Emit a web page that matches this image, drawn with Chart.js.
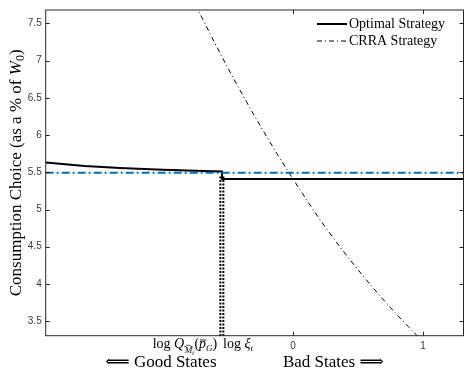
<!DOCTYPE html>
<html>
<head>
<meta charset="utf-8">
<script src="https://cdn.jsdelivr.net/npm/chart.js@4.4.0/dist/chart.umd.min.js"></script>
<style>
  html, body { margin: 0; padding: 0; background: #fff; }
  #wrap { width: 465px; height: 377px; }
</style>
</head>
<body>
<div id="wrap"><canvas id="chart" width="465" height="377"></canvas></div>
<script>
// values
const optX = [-1.9, -1.6, -1.33, -1.0, -0.75, -0.545, -0.545, 1.31];
const optY = [5.63, 5.585, 5.557, 5.535, 5.52, 5.51, 5.41, 5.41];

const crraX = [-0.75, -0.5, -0.25, 0, 0.25, 0.5, 0.75, 1.0];
const crraY = [7.75, 6.90, 6.12, 5.41, 4.76, 4.19, 3.68, 3.22];

const blueX = [-1.9, 1.31];
const blueY = [5.493, 5.493];

// double dotted marker below the switch point
const dotX1 = [-0.558, -0.558];
const dotX2 = [-0.535, -0.535];
const dotY = [3.3, 5.46];

const xTicks = [0, 1];
const yTicks = [3.5, 4, 4.5, 5, 5.5, 6, 6.5, 7, 7.5];

const xMin = -1.9, xMax = 1.31;
const yMin = 3.305, yMax = 7.68;

function pts(xs, ys) {
  return xs.map((x, i) => ({ x: x, y: ys[i] }));
}

const axisColor = "#262626";
const serif = "'Liberation Serif', 'DejaVu Serif', serif";
const sans = "'Liberation Sans', Arial, sans-serif";

// draws a row of text pieces (for subscripts, italics, hats, bars)
function drawRuns(ctx, runs, x, y, align) {
  let total = 0;
  runs.forEach(r => {
    ctx.font = r.font;
    r.w = ctx.measureText(r.t).width;
    total += r.w + (r.kern || 0);
  });
  let cx = align === "center" ? x - total / 2 : x;
  runs.forEach(r => {
    ctx.font = r.font;
    ctx.fillText(r.t, cx, y + (r.dy || 0));
    if (r.hat) {
      const top = y + (r.dy || 0) - r.hat;
      ctx.beginPath();
      ctx.lineWidth = 0.7;
      ctx.moveTo(cx - 0.5, top + 2);
      ctx.lineTo(cx + r.w / 2, top);
      ctx.lineTo(cx + r.w + 0.5, top + 2);
      ctx.stroke();
    }
    if (r.bar) {
      const top = y + (r.dy || 0) - r.bar;
      ctx.beginPath();
      ctx.lineWidth = 0.8;
      ctx.moveTo(cx + 1, top);
      ctx.lineTo(cx + r.w + 0.5, top);
      ctx.stroke();
    }
    cx += r.w + (r.kern || 0);
  });
}

const framePlugin = {
  id: "frame",
  afterDatasetsDraw(chart) {
    const ctx = chart.ctx;
    const a = chart.chartArea;
    const xs = chart.scales.x, ys = chart.scales.y;
    ctx.save();
    ctx.strokeStyle = axisColor;
    ctx.lineWidth = 1;
    ctx.strokeRect(a.left, a.top, a.right - a.left, a.bottom - a.top);
    ctx.beginPath();
    yTicks.forEach(v => {
      const p = Math.round(ys.getPixelForValue(v)) + 0.5;
      ctx.moveTo(a.left, p); ctx.lineTo(a.left + 4, p);
      ctx.moveTo(a.right, p); ctx.lineTo(a.right - 4, p);
    });
    xTicks.forEach(v => {
      const p = Math.round(xs.getPixelForValue(v)) + 0.5;
      ctx.moveTo(p, a.bottom); ctx.lineTo(p, a.bottom - 4);
      ctx.moveTo(p, a.top); ctx.lineTo(p, a.top + 4);
    });
    ctx.stroke();

    // legend, top right, no box
    ctx.fillStyle = "#000";
    ctx.textBaseline = "middle";
    ctx.textAlign = "left";
    ctx.font = "14px " + serif;
    [0, 1].forEach((k, i) => {
      const ds = chart.data.datasets[k];
      const ly = 24 + i * 17;
      ctx.beginPath();
      ctx.strokeStyle = ds.borderColor;
      ctx.lineWidth = ds.borderWidth;
      ctx.setLineDash(ds.borderDash || []);
      ctx.moveTo(317, ly); ctx.lineTo(347, ly);
      ctx.stroke();
      ctx.setLineDash([]);
      ctx.fillText(ds.label, 349, ly);
    });
    ctx.restore();
  },
  afterDraw(chart) {
    const ctx = chart.ctx;
    const a = chart.chartArea;
    const xs = chart.scales.x;
    ctx.save();
    ctx.fillStyle = "#000";
    ctx.strokeStyle = "#000";
    ctx.textBaseline = "alphabetic";
    ctx.textAlign = "left";

    // y title, rotated
    ctx.save();
    ctx.translate(20.5, (a.top + a.bottom) / 2);
    ctx.rotate(-Math.PI / 2);
    drawRuns(ctx, [
      { t: "Consumption Choice (as a % of ", font: "17px " + serif },
      { t: "W", font: "italic 17px " + serif },
      { t: "0", font: "12px " + serif, dy: 3.5 },
      { t: ")", font: "17px " + serif }
    ], 0, 0, "center");
    ctx.restore();

    // special labels under the x axis
    drawRuns(ctx, [
      { t: "log ", font: "14px " + serif },
      { t: "Q", font: "italic 14px " + serif, kern: 0.5 },
      { t: "M", font: "italic 9px " + serif, dy: 5, hat: 8 },
      { t: "t", font: "italic 6px " + serif, dy: 7, kern: 0.5 },
      { t: "(", font: "14px " + serif },
      { t: "p", font: "italic 14px " + serif, bar: 8 },
      { t: "G", font: "italic 9px " + serif, dy: 2.5 },
      { t: ")", font: "14px " + serif }
    ], xs.getPixelForValue(-0.83), 348, "center");
    drawRuns(ctx, [
      { t: "log ", font: "14px " + serif },
      { t: "\u03BE", font: "italic 14px " + serif },
      { t: "t", font: "italic 9px " + serif, dy: 2.5 }
    ], xs.getPixelForValue(-0.423), 348, "center");

    ctx.textAlign = "center";
    ctx.font = "17px " + serif;
    ctx.fillText("\u27F8 Good States", xs.getPixelForValue(-1.015), 367);
    ctx.fillText("Bad States \u27F9", xs.getPixelForValue(0.31), 367);
    ctx.restore();
  }
};

new Chart(document.getElementById("chart"), {
  type: "scatter",
  data: {
    datasets: [
      {
        label: "Optimal Strategy",
        data: pts(optX, optY),
        showLine: true,
        borderColor: "#000",
        borderWidth: 2,
        pointRadius: 0,
        tension: 0,
        order: 1
      },
      {
        label: "CRRA Strategy",
        data: pts(crraX, crraY),
        showLine: true,
        borderColor: "#000",
        borderWidth: 1,
        borderDash: [5, 3, 1, 3],
        pointRadius: 0,
        cubicInterpolationMode: "monotone",
        order: 2
      },
      {
        label: "benchmark",
        data: pts(blueX, blueY),
        showLine: true,
        borderColor: "#0072BD",
        borderWidth: 2,
        borderDash: [8, 3, 2, 3],
        pointRadius: 0,
        order: 0
      },
      {
        label: "dots1",
        data: pts(dotX1, dotY),
        showLine: true,
        borderColor: "#000",
        borderWidth: 2,
        borderDash: [2, 1.5],
        pointRadius: 0,
        order: 3
      },
      {
        label: "dots2",
        data: pts(dotX2, dotY),
        showLine: true,
        borderColor: "#000",
        borderWidth: 2,
        borderDash: [2, 1.5],
        pointRadius: 0,
        order: 3
      }
    ]
  },
  options: {
    responsive: false,
    animation: false,
    layout: { padding: { top: 4.7, right: 1.5, left: 0, bottom: 0 } },
    plugins: { legend: { display: false }, tooltip: { enabled: false } },
    scales: {
      x: {
        type: "linear",
        min: xMin,
        max: xMax,
        afterBuildTicks: s => { s.ticks = xTicks.map(v => ({ value: v })); },
        afterFit: s => { s.height = 41.3; },
        grid: { display: false, drawTicks: false },
        border: { display: false },
        ticks: { color: "#3a3a3a", font: { family: sans, size: 10 }, padding: 5, callback: v => String(v) }
      },
      y: {
        type: "linear",
        min: yMin,
        max: yMax,
        afterBuildTicks: s => { s.ticks = yTicks.map(v => ({ value: v })); },
        afterFit: s => { s.width = 45.7; },
        grid: { display: false, drawTicks: false },
        border: { display: false },
        ticks: { color: "#3a3a3a", font: { family: sans, size: 10 }, padding: 4, callback: v => String(v) }
      }
    }
  },
  plugins: [framePlugin]
});
</script>
</body>
</html>
